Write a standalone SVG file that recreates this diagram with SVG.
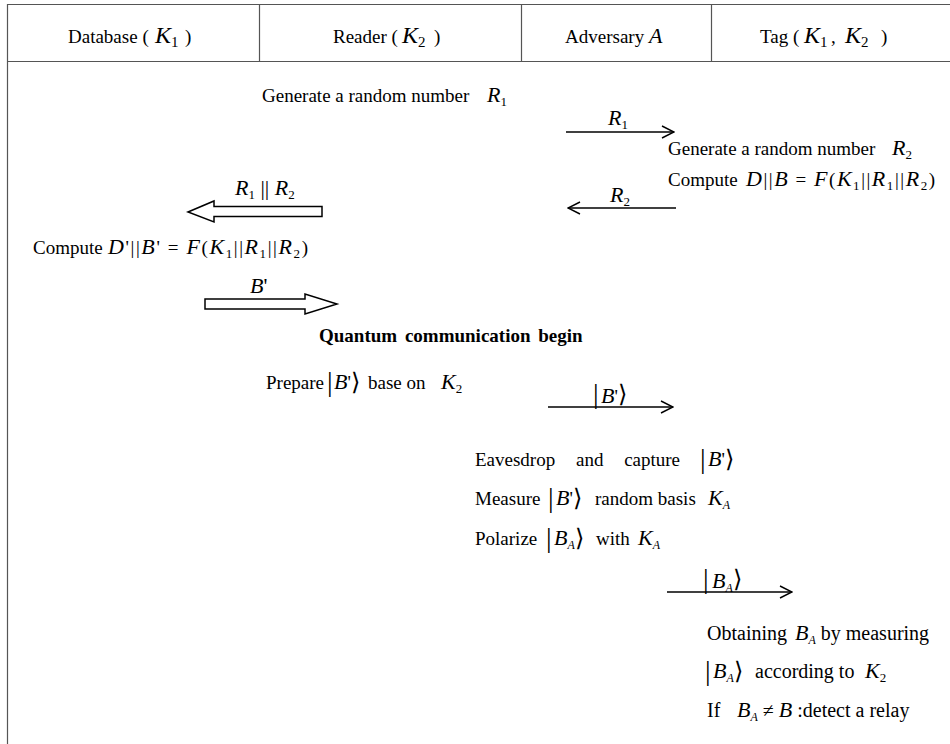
<svg xmlns="http://www.w3.org/2000/svg" width="950" height="744" viewBox="0 0 950 744">
<defs>
<style>
.t{font-family:"Liberation Serif","Times New Roman",serif;font-size:19px;fill:#000}
.m{font-style:italic;font-size:22px}
.hm{font-style:italic;font-size:24px}
.hs{font-style:normal;font-size:15px}
.s{font-style:normal;font-size:13px}
.sa{font-style:italic;font-size:12px}
.b{font-weight:bold}
.big{font-size:20px}
.k{font-family:"DejaVu Sans",sans-serif;font-size:24px;font-weight:200;font-style:normal}
.bar{font-family:"Liberation Serif",serif;font-size:28px;font-style:normal}
.grid{stroke:#555;stroke-width:1.2;fill:none}
.ln{stroke:#000;stroke-width:1.4;fill:none}
.hol{stroke:#000;stroke-width:1.5;fill:#fff}
</style>
<marker id="ah" viewBox="0 0 14 14" refX="13" refY="7" markerWidth="14" markerHeight="14" markerUnits="userSpaceOnUse" orient="auto">
<polyline points="1,1 13,7 1,13" fill="none" stroke="#000" stroke-width="1.4"/>
</marker>
</defs>
<rect width="950" height="744" fill="#fff"/>

<g id="table">
<line class="grid" x1="7" y1="4.5" x2="950" y2="4.5"/>
<line class="grid" x1="7" y1="61.5" x2="950" y2="61.5"/>
<line class="grid" x1="7.5" y1="4" x2="7.5" y2="744"/>
<line class="grid" x1="259.5" y1="4" x2="259.5" y2="61"/>
<line class="grid" x1="521.5" y1="4" x2="521.5" y2="61"/>
<line class="grid" x1="711.5" y1="4" x2="711.5" y2="61"/>
</g>

<g id="headers">
<text id="h-db" class="t" x="68" y="43">Database (<tspan class="hm" x="155">K</tspan><tspan class="hs" dy="4">1</tspan><tspan dy="-4" x="185">)</tspan></text>
<text id="h-rd" class="t" x="333" y="43">Reader (<tspan class="hm" x="402">K</tspan><tspan class="hs" dy="4">2</tspan><tspan dy="-4" x="434">)</tspan></text>
<text id="h-adv" class="t" x="565" y="43">Adversary <tspan class="m" font-size="20">A</tspan></text>
<text id="h-tag" class="t" x="760" y="43">Tag (<tspan class="hm" x="804">K</tspan><tspan class="hs" dy="4">1</tspan><tspan dy="-4" x="831">,</tspan><tspan class="hm" x="845">K</tspan><tspan class="hs" dy="4">2</tspan><tspan dy="-4" x="881">)</tspan></text>
</g>

<g id="reader-gen">
<text class="t" x="262" y="102">Generate a random number<tspan class="m" x="487">R</tspan><tspan class="s" dy="4">1</tspan></text>
</g>

<g id="tag-gen">
<text class="t" x="668" y="155">Generate a random number<tspan class="m" x="892">R</tspan><tspan class="s" dy="4">2</tspan></text>
<text class="t" x="668" y="186">Compute</text>
<text class="t" x="746" y="186" textLength="189" lengthAdjust="spacing"><tspan class="m">D</tspan><tspan>||</tspan><tspan class="m">B</tspan><tspan> = </tspan><tspan class="m">F</tspan><tspan>(</tspan><tspan class="m">K</tspan><tspan class="s" dy="4">1</tspan><tspan dy="-4">||</tspan><tspan class="m">R</tspan><tspan class="s" dy="4">1</tspan><tspan dy="-4">||</tspan><tspan class="m">R</tspan><tspan class="s" dy="4">2</tspan><tspan dy="-4">)</tspan></text>
</g>

<g id="db-compute">
<text class="t" x="33" y="254">Compute</text>
<text class="t" x="108" y="254" textLength="200" lengthAdjust="spacing"><tspan class="m">D</tspan><tspan>'||</tspan><tspan class="m">B</tspan><tspan>' = </tspan><tspan class="m">F</tspan><tspan>(</tspan><tspan class="m">K</tspan><tspan class="s" dy="4">1</tspan><tspan dy="-4">||</tspan><tspan class="m">R</tspan><tspan class="s" dy="4">1</tspan><tspan dy="-4">||</tspan><tspan class="m">R</tspan><tspan class="s" dy="4">2</tspan><tspan dy="-4">)</tspan></text>
</g>

<g id="quantum">
<text class="t b" x="319" y="342" word-spacing="3">Quantum communication begin</text>
<text class="t" x="266" y="389">Prepare<tspan class="bar" x="327" y="391">|</tspan><tspan class="m" x="334" y="389">B</tspan><tspan>'</tspan><tspan class="k" y="390">⟩</tspan><tspan x="368" y="389">base on</tspan><tspan class="m" x="441">K</tspan><tspan class="s" dy="4">2</tspan></text>
</g>

<g id="adversary">
<text class="t" x="475" y="466" word-spacing="16">Eavesdrop and capture<tspan class="bar" x="700" y="468">|</tspan><tspan class="m" x="708" y="466">B</tspan><tspan>'</tspan><tspan class="k" y="467">⟩</tspan></text>
<text class="t" x="475" y="505">Measure<tspan class="bar" x="548" y="507">|</tspan><tspan class="m" x="556" y="505">B</tspan><tspan>'</tspan><tspan class="k" y="506">⟩</tspan><tspan x="595" y="505">random basis</tspan><tspan class="m" x="708">K</tspan><tspan class="sa" dy="4">A</tspan></text>
<text class="t" x="475" y="545">Polarize<tspan class="bar" x="546" y="547">|</tspan><tspan class="m" x="554" y="545">B</tspan><tspan class="sa" dy="4">A</tspan><tspan class="k" dy="-3">⟩</tspan><tspan x="596" y="545">with</tspan><tspan class="m" x="638">K</tspan><tspan class="sa" dy="4">A</tspan></text>
</g>

<g id="tag-verify">
<text class="t big" x="707" y="640">Obtaining<tspan class="m" x="795">B</tspan><tspan class="sa" dy="4">A</tspan><tspan dy="-4"> by measuring</tspan></text>
<text class="t big" x="705" y="678"><tspan class="bar" y="680">|</tspan><tspan class="m" x="713" y="678">B</tspan><tspan class="sa" dy="4">A</tspan><tspan class="k" dy="-3">⟩</tspan><tspan x="755" y="678">according to</tspan><tspan class="m" x="865">K</tspan><tspan class="s" dy="4">2</tspan></text>
<text class="t big" x="707" y="717">If<tspan class="m" x="737">B</tspan><tspan class="sa" dy="4">A</tspan><tspan dy="-4"> ≠ </tspan><tspan class="m">B</tspan><tspan> :detect a relay</tspan></text>
</g>

<g id="connectors">
<line class="ln" x1="566" y1="132" x2="674" y2="132" marker-end="url(#ah)"/>
<text class="t m" x="608" y="125">R<tspan class="s" dy="4">1</tspan></text>
<line class="ln" x1="676" y1="208" x2="568" y2="208" marker-end="url(#ah)"/>
<text class="t m" x="610" y="202">R<tspan class="s" dy="4">2</tspan></text>
<polygon class="hol" points="188,212 214,201 214,206.5 322,206.5 322,216.5 214,216.5 214,222"/>
<text class="t m" x="235" y="195">R<tspan class="s" dy="4">1</tspan><tspan dy="-4" font-style="normal"> || </tspan>R<tspan class="s" dy="4">2</tspan></text>
<polygon class="hol" points="205,299 305,299 305,294 337,304 305,314 305,309 205,309"/>
<text class="t m" x="250" y="293">B<tspan font-style="normal">'</tspan></text>
<line class="ln" x1="548" y1="407" x2="673" y2="407" marker-end="url(#ah)"/>
<text class="t" x="593" y="403"><tspan class="bar" font-size="32">|</tspan><tspan class="m" x="601">B</tspan><tspan>'</tspan><tspan class="k" y="402">⟩</tspan></text>
<line class="ln" x1="667" y1="592" x2="792" y2="592" marker-end="url(#ah)"/>
<text class="t" x="703" y="588"><tspan class="bar" font-size="32">|</tspan><tspan class="m" x="712">B</tspan><tspan class="sa" dy="4">A</tspan><tspan class="k" dy="-5">⟩</tspan></text>
</g>
</svg>
